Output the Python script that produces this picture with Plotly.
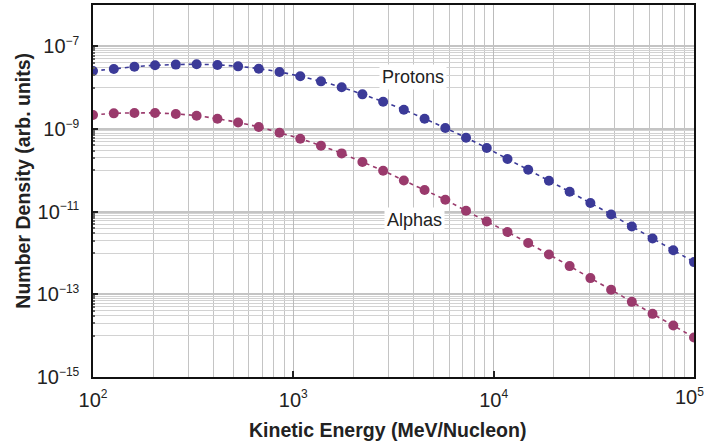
import plotly.graph_objects as go

# Energia cinetica (MeV/nucleon), puntos equiespaciados en log
energia = [100, 127, 161, 204, 259, 329, 418, 530, 672, 853,
           1083, 1374, 1743, 2212, 2807, 3562, 4520, 5736, 7279, 9237,
           11721, 14874, 18874, 23950, 30392, 38566, 48939, 62102, 78805, 100000]

protones = [2.54e-8, 2.84e-8, 3.22e-8, 3.47e-8, 3.61e-8, 3.67e-8, 3.55e-8, 3.28e-8, 2.88e-8, 2.40e-8,
            1.88e-8, 1.42e-8, 1.02e-8, 6.89e-9, 4.58e-9, 2.93e-9, 1.77e-9, 1.06e-9, 6.15e-10, 3.47e-10,
            1.88e-10, 1.03e-10, 5.60e-11, 3.03e-11, 1.62e-11, 8.55e-12, 4.38e-12, 2.25e-12, 1.17e-12, 6.02e-13]

alfas = [2.18e-9, 2.39e-9, 2.44e-9, 2.44e-9, 2.31e-9, 2.10e-9, 1.77e-9, 1.44e-9, 1.12e-9, 8.13e-10,
         5.82e-10, 3.94e-10, 2.57e-10, 1.59e-10, 9.78e-11, 5.69e-11, 3.33e-11, 1.94e-11, 1.05e-11, 5.79e-12,
         3.21e-12, 1.74e-12, 9.20e-13, 4.82e-13, 2.47e-13, 1.29e-13, 6.58e-14, 3.37e-14, 1.76e-14, 9.00e-15]

x_ticks = [1e2, 1e3, 1e4, 1e5]
x_exps = ['2', '3', '4', '5']
y_ticks = [1e-15, 1e-13, 1e-11, 1e-9, 1e-7]
y_exps = ['\u221215', '\u221213', '\u221211', '\u22129', '\u22127']

AZUL = '#3b3a98'
MAGENTA = '#9a3a6c'
FUENTE = 'Liberation Sans, Arial, sans-serif'


def potencia(exp):
    return '10<sup><span style="font-size:12px">%s</span></sup>' % exp


# lineas menores: verticales en todas las decadas, horizontales solo en decadas pares
x_menor = [d * 10 ** k for k in range(2, 5) for d in range(2, 10)]
y_menor = [d * 10.0 ** k for k in (-14, -12, -10, -8) for d in range(1, 10)]

fig = go.Figure()
for valores, color in [(protones, AZUL), (alfas, MAGENTA)]:
    fig.add_trace(go.Scatter(x=energia, y=valores,
                             mode='lines+markers',
                             line=dict(color=color, width=1.6, dash='4px,4px', shape='spline'),
                             marker=dict(size=10, color=color),
                             showlegend=False,
                             cliponaxis=True))

fig.add_annotation(x=3.595, y=-7.73, text='Protons', showarrow=False,
                   font=dict(family=FUENTE, size=18, color='#222'),
                   bgcolor='white', borderpad=2)
fig.add_annotation(x=3.607, y=-11.2, text='Alphas', showarrow=False,
                   font=dict(family=FUENTE, size=18, color='#222'),
                   bgcolor='white', borderpad=2)

# titulos de ejes como anotaciones para fijar la posicion
fig.add_annotation(xref='paper', yref='paper', x=0.49, y=-0.143,
                   xanchor='center', yanchor='middle', showarrow=False,
                   text='<b>Kinetic Energy (MeV/Nucleon)</b>',
                   font=dict(family=FUENTE, size=19.5, color='#222'))
fig.add_annotation(xref='paper', yref='paper', x=-0.117, y=0.527,
                   xanchor='center', yanchor='middle', showarrow=False, textangle=-90,
                   text='<b>Number Density (arb. units)</b>',
                   font=dict(family=FUENTE, size=19.5, color='#222'))

# la ultima etiqueta del eje x va pegada al borde derecho
x_texts = [potencia(e) for e in x_exps[:-1]] + ['']
fig.add_annotation(xref='paper', yref='paper', x=1.02, y=-0.016,
                   xanchor='right', yanchor='top', showarrow=False,
                   text=potencia(x_exps[-1]),
                   font=dict(family=FUENTE, size=20, color='#222'))

fig.update_xaxes(type='log', range=[2, 5], automargin=False,
                 tickvals=x_ticks, ticktext=x_texts,
                 ticks='inside', ticklen=6, tickwidth=1.5, tickcolor='#222',
                 showline=True, linecolor='#111', linewidth=1.5, mirror=True,
                 showgrid=True, gridcolor='#bbbbbb', gridwidth=1,
                 minor=dict(tickvals=x_menor, showgrid=True, gridcolor='#c4c4c4', gridwidth=1, ticks=''),
                 tickfont=dict(family=FUENTE, size=20, color='#222'),
                 ticklabelstandoff=4,
                 zeroline=False)

fig.update_yaxes(type='log', range=[-15, -6], automargin=False,
                 tickvals=y_ticks, ticktext=[potencia(e) for e in y_exps],
                 ticks='inside', ticklen=5, tickwidth=1.5, tickcolor='#222',
                 showline=True, linecolor='#111', linewidth=1.5, mirror=True,
                 showgrid=True, gridcolor='#c4c4c4', gridwidth=1.5,
                 minor=dict(tickvals=y_menor, showgrid=True, gridcolor='#d2d2d2', gridwidth=1,
                            ticks='inside', ticklen=2, tickcolor='#666'),
                 tickfont=dict(family=FUENTE, size=20, color='#222'),
                 ticklabelstandoff=8,
                 zeroline=False)

fig.update_layout(width=707, height=447,
                  margin=dict(l=93, r=13, t=5, b=70),
                  plot_bgcolor='white', paper_bgcolor='white')

fig.write_html('out.html', config={'displayModeBar': False},
               post_script="document.body.style.margin='0';")
